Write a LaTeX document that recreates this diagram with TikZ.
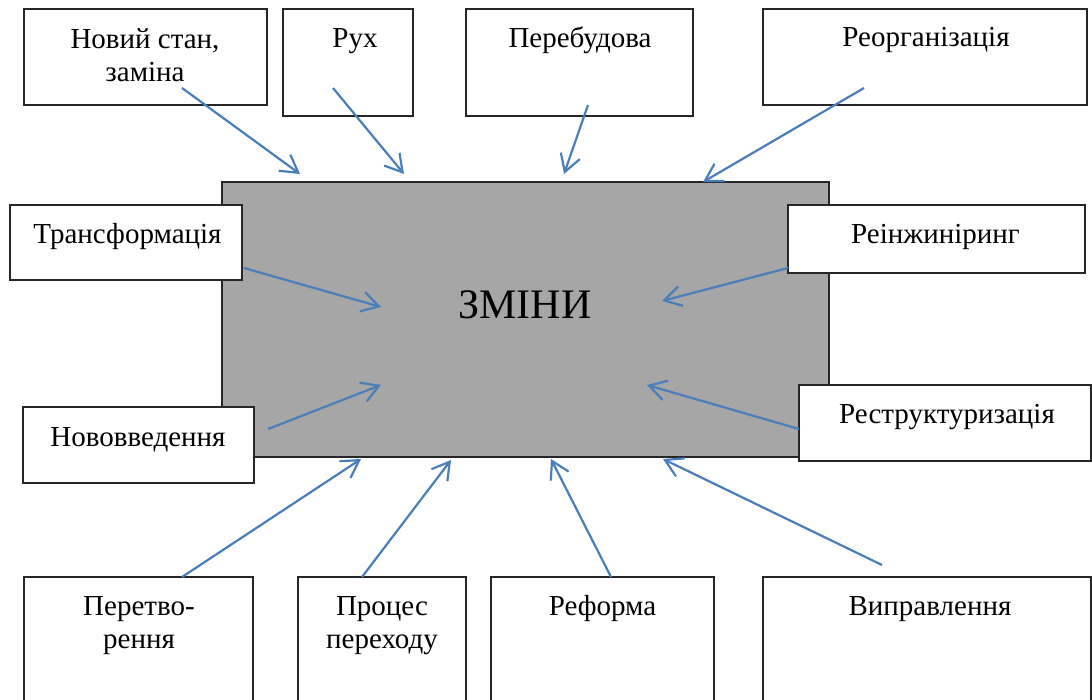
\documentclass[tikz,border=0pt]{standalone}
\usepackage{fontspec}
\setmainfont{Liberation Serif}
\usetikzlibrary{arrows.meta}
\definecolor{arrowblue}{HTML}{4A7EBB}
\definecolor{centergray}{HTML}{A6A6A6}
\begin{document}
\begin{tikzpicture}[x=0.5pt,y=-0.5pt,
  box/.style={draw=black!85, line width=0.65pt, fill=white, anchor=north west, inner sep=0pt, outer sep=0pt},
  centerbox/.style={box, fill=centergray},
  lbl/.style={font=\fontsize{14.5pt}{16.5pt}\selectfont, align=center, inner sep=0pt},
  biglbl/.style={font=\fontsize{21pt}{25pt}\selectfont, inner sep=0pt},
  arr/.style={draw=arrowblue, line width=1.1pt, -{Straight Barb[length=8.5pt,width=10pt,line width=1.1pt]}}]
\useasboundingbox (0,0) rectangle (1092,700);
\clip (0,0) rectangle (1092,700);
% central box
\node[centerbox, minimum width=303.5pt, minimum height=137.5pt] (c) at (222,182) {};
% surrounding boxes
\node[box, minimum width=121.5pt, minimum height=48pt]   (n1)  at (24,9) {};
\node[box, minimum width=65pt,    minimum height=53.5pt] (n2)  at (283,9) {};
\node[box, minimum width=113.5pt, minimum height=53.5pt] (n3)  at (466,9) {};
\node[box, minimum width=162pt,   minimum height=48pt]   (n4)  at (763,9) {};
\node[box, minimum width=116pt,   minimum height=37.5pt] (n5)  at (10,205) {};
\node[box, minimum width=148.5pt, minimum height=34pt]   (n6)  at (788,205) {};
\node[box, minimum width=115.5pt, minimum height=38pt]   (n7)  at (23,407) {};
\node[box, minimum width=146pt,   minimum height=38pt]   (n8)  at (799,385) {};
\node[box, minimum width=114.5pt, minimum height=75pt]   (n9)  at (24,577) {};
\node[box, minimum width=84pt,    minimum height=75pt]   (n10) at (298,577) {};
\node[box, minimum width=111.5pt, minimum height=75pt]   (n11) at (491,577) {};
\node[box, minimum width=164pt,   minimum height=75pt]   (n12) at (763,577) {};
% texts
\node[biglbl, anchor=base] (tc) at (525,318) {ЗМІНИ};
\node[lbl, anchor=north] (t1)  at (145,28.5) {Новий стан,\\заміна};
\node[lbl, anchor=base]  (t2)  at (355,47.7) {Рух};
\node[lbl, anchor=base]  (t3)  at (580,47.7) {Перебудова};
\node[lbl, anchor=base]  (t4)  at (926,47) {Реорганізація};
\node[lbl, anchor=base]  (t5)  at (127.5,244) {Трансформація};
\node[lbl, anchor=base]  (t6)  at (935.5,244) {Реінжиніринг};
\node[lbl, anchor=base]  (t7)  at (138,446) {Нововведення};
\node[lbl, anchor=base]  (t8)  at (947,423) {Реструктуризація};
\node[lbl, anchor=north] (t9)  at (139,596) {Перетво-\\рення};
\node[lbl, anchor=north] (t10) at (382,596) {Процес\\переходу};
\node[lbl, anchor=base]  (t11) at (602.5,615) {Реформа};
\node[lbl, anchor=base]  (t12) at (930,615) {Виправлення};
% arrow end points
\coordinate (s1) at (182,88);   \coordinate (e1) at (300,174);
\coordinate (s2) at (333,88);   \coordinate (e2) at (404,174);
\coordinate (s3) at (588,105);  \coordinate (e3) at (564,174);
\coordinate (s4) at (864,88);   \coordinate (e4) at (703,182);
\coordinate (s5) at (244,268);  \coordinate (e5) at (381,307);
\coordinate (s6) at (788,268);  \coordinate (e6) at (662,301);
\coordinate (s7) at (268,429);  \coordinate (e7) at (381,385);
\coordinate (s8) at (799,429);  \coordinate (e8) at (647,385);
\coordinate (s9) at (182,577);  \coordinate (e9) at (361,459);
\coordinate (s10) at (362,577); \coordinate (e10) at (451,460);
\coordinate (s11) at (611,577); \coordinate (e11) at (551,459);
\coordinate (s12) at (882,565); \coordinate (e12) at (663,459);
\foreach \i in {1,...,12} {\draw[arr] (s\i) -- (e\i);}
\end{tikzpicture}
\end{document}
